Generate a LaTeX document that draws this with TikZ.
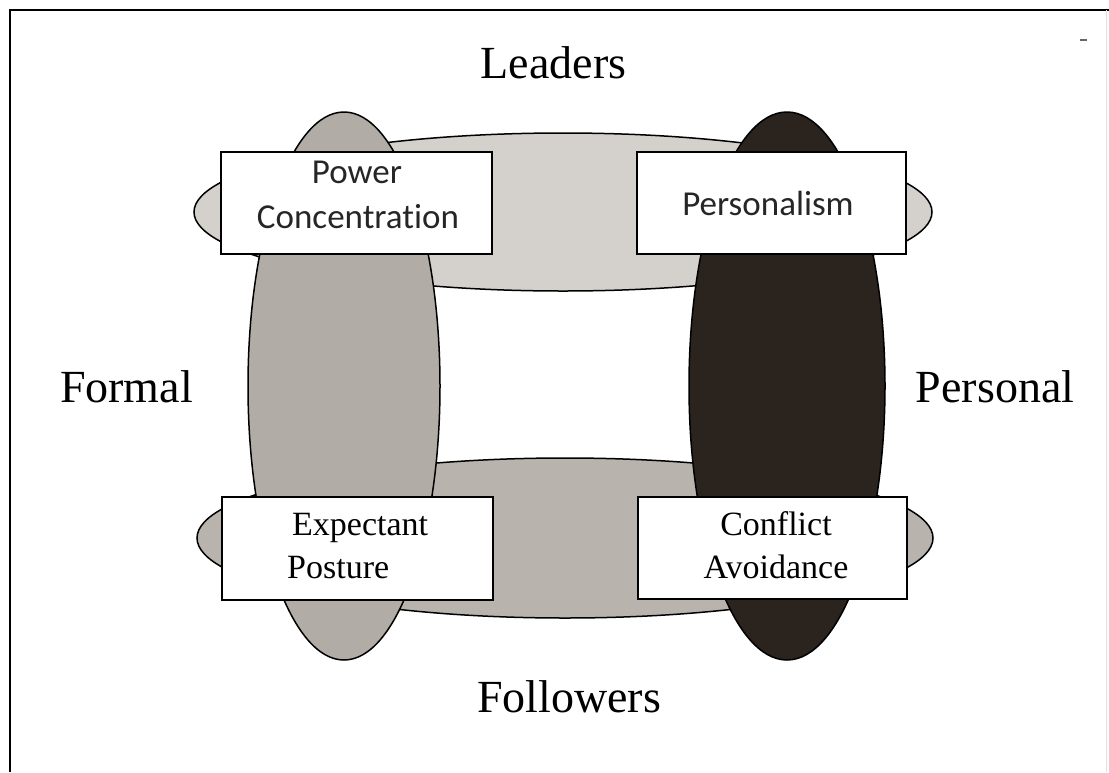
\documentclass[tikz,border=0pt]{standalone}
\usepackage{fontspec}
\setmainfont{Liberation Serif}
\newfontfamily\boxsans[Ligatures=NoCommon]{Carlito}
\usetikzlibrary{shapes.geometric}
\definecolor{leftgray}{RGB}{178,172,166}
\definecolor{topgray}{RGB}{212,209,205}
\definecolor{botgray}{RGB}{184,179,173}
\definecolor{darkoval}{RGB}{43,35,30}
\begin{document}
\begin{tikzpicture}[x=1pt,y=-1pt,
  oval/.style={ellipse, draw=black, line width=1.5pt, inner sep=0pt},
  card/.style={rectangle, draw=black, fill=white, line width=2pt, inner sep=0pt},
  sanslbl/.style={font=\boxsans\fontsize{35}{38}\selectfont, anchor=base, inner sep=0pt, text=black!85},
  seriflbl/.style={font=\fontsize{34}{38}\selectfont, inner sep=0pt},
  axislbl/.style={font=\fontsize{46}{50}\selectfont, anchor=base, inner sep=0pt}]
\useasboundingbox (0,0) rectangle (1109,772);
\fill[white] (0,0) rectangle (1109,772);
% frame
\coordinate (fbl) at (10,772);
\coordinate (ftl) at (10,10);
\coordinate (ftr) at (1109,10);
\draw[line width=2pt] (fbl) -- (ftl) -- (ftr);
\coordinate (frt) at (1106,10);
\coordinate (frb) at (1106,772);
\draw[black!12, line width=1pt] (frt) -- (frb);
\coordinate (d1) at (1080,40);
\coordinate (d2) at (1087,40);
\draw[black!60, line width=1.5pt] (d1) -- (d2);
% horizontal ovals (behind)
\node[oval, fill=topgray, minimum width=738pt, minimum height=158pt] (topoval) at (563,212) {};
\node[oval, fill=botgray, minimum width=736pt, minimum height=160pt] (botoval) at (565,538) {};
% vertical ovals (front)
\node[oval, fill=leftgray, minimum width=192pt, minimum height=548pt] (leftoval) at (344,386) {};
\node[oval, fill=darkoval, minimum width=196pt, minimum height=548pt] (rightoval) at (787,386) {};
% boxes
\node[card, minimum width=271pt, minimum height=102pt] (pc) at (356.5,203) {};
\node[card, minimum width=269pt, minimum height=102pt] (pers) at (771.5,203) {};
\node[card, minimum width=271pt, minimum height=103pt] (ep) at (357.5,548.5) {};
\node[card, minimum width=269pt, minimum height=102pt] (ca) at (772.5,548) {};
% box texts
\node[sanslbl] (pc1) at (357,183) {Power};
\node[sanslbl] (pc2) at (358,228) {Concentration};
\node[sanslbl] (pers1) at (768,215) {Personalism};
\node[seriflbl, anchor=base west] (ep1) at (292,535) {Expectant};
\node[seriflbl, anchor=base west] (ep2) at (287,578) {Posture};
\node[seriflbl, anchor=base] (ca1) at (776,535) {Conflict};
\node[seriflbl, anchor=base] (ca2) at (776,578) {Avoidance};
% axis labels
\node[axislbl] (leaders) at (553.5,78) {Leaders};
\node[axislbl] (formal) at (126.5,402) {Formal};
\node[axislbl] (personal) at (995,402) {Personal};
\node[axislbl] (followers) at (569,712) {Followers};
\end{tikzpicture}
\end{document}
